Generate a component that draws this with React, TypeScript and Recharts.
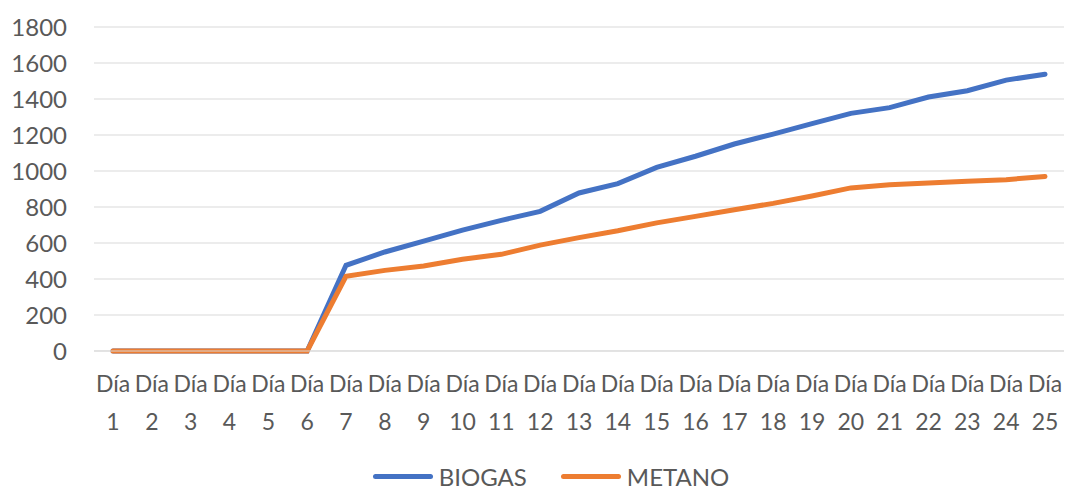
import { LineChart, Line, XAxis, YAxis, CartesianGrid, Legend } from 'recharts'

document.body.style.margin = '0'

const days = Array.from({ length: 25 }, (_, i) => `Día ${i + 1}`)
const biogas = [0, 0, 0, 0, 0, 0, 476, 550, 610, 672, 726, 776, 878, 930, 1020, 1082, 1150, 1205, 1263, 1320, 1352, 1411, 1446, 1505, 1538]
const metano = [0, 0, 0, 0, 0, 0, 415, 448, 472, 510, 537, 588, 630, 668, 712, 748, 785, 820, 861, 906, 924, 933, 943, 952, 970]
const yTicks = [0, 200, 400, 600, 800, 1000, 1200, 1400, 1600, 1800]

const BLUE = '#4472C4'
const ORANGE = '#ED7D31'
const TEXT = '#595959'
const FONT = 'Lato, sans-serif'

const data = days.map((day, i) => ({ day, biogas: biogas[i], metano: metano[i] }))

function DayTick({ x, y, payload }: any) {
  const [word, num] = String(payload.value).split(' ')
  return (
    <text x={x} y={y} textAnchor="middle" fill={TEXT} fontFamily={FONT} fontSize={23}>
      <tspan x={x} dy={41}>{word}</tspan>
      <tspan x={x} dy={38}>{num}</tspan>
    </text>
  )
}

function LegendBox() {
  const items = [
    { name: 'BIOGAS', color: BLUE },
    { name: 'METANO', color: ORANGE },
  ]
  return (
    <div style={{ display: 'flex', justifyContent: 'center', gap: 34, height: 30, alignItems: 'center', paddingLeft: 38, fontFamily: FONT, fontSize: 24, color: TEXT }}>
      {items.map((it) => (
        <div key={it.name} style={{ display: 'flex', alignItems: 'center' }}>
          <span style={{ display: 'inline-block', width: 60, height: 5, borderRadius: 3, background: it.color, marginRight: 6 }} />
          {it.name}
        </div>
      ))}
    </div>
  )
}

export default function App() {
  return (
    <LineChart width={1067} height={491} data={data} margin={{ top: 27, right: 3, left: 0, bottom: 0 }}>
      <CartesianGrid vertical={false} stroke="#d9d9d9" strokeWidth={1} />
      <XAxis
        dataKey="day"
        interval={0}
        height={110}
        padding={{ left: 19, right: 19 }}
        tickLine={false}
        tickSize={0}
        tickMargin={0}
        axisLine={{ stroke: '#d9d9d9' }}
        tick={<DayTick />}
      />
      <YAxis
        domain={[0, 1800]}
        ticks={yTicks}
        width={94}
        tickLine={false}
        axisLine={false}
        tickSize={0}
        tickMargin={27}
        tick={{ fontSize: 24, fill: TEXT, fontFamily: FONT }}
      />
      <Legend verticalAlign="bottom" content={<LegendBox />} />
      <Line type="linear" dataKey="biogas" name="BIOGAS" stroke={BLUE} strokeWidth={5} strokeLinecap="round" dot={false} isAnimationActive={false} />
      <Line type="linear" dataKey="metano" name="METANO" stroke={ORANGE} strokeWidth={5} strokeLinecap="round" dot={false} isAnimationActive={false} />
    </LineChart>
  )
}
